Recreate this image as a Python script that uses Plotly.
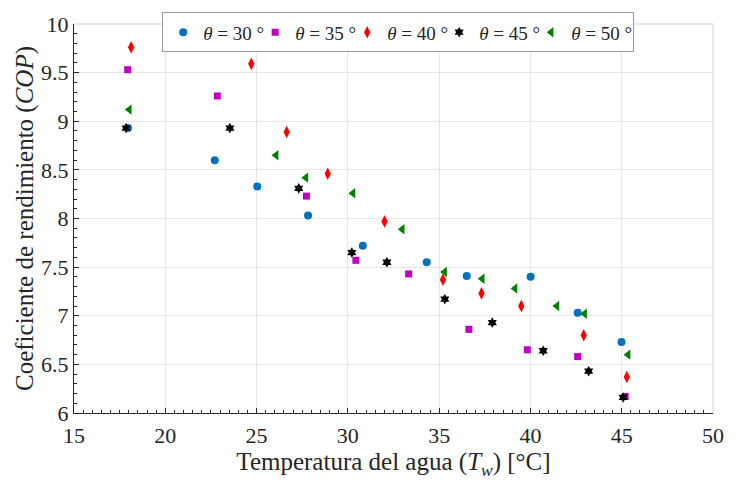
import plotly.graph_objects as go

# Water temperature (°C) and COP for each inclination angle
t_30 = [17.96, 22.71, 25.04, 27.82, 30.82, 34.32, 36.51, 40.01, 42.59, 44.99]
cop_30 = [8.93, 8.60, 8.33, 8.03, 7.72, 7.55, 7.41, 7.40, 7.03, 6.73]

t_35 = [17.94, 22.85, 27.73, 30.44, 33.33, 36.63, 39.83, 42.59, 45.19]
cop_35 = [9.53, 9.26, 8.23, 7.57, 7.43, 6.86, 6.65, 6.58, 6.17]

t_40 = [18.13, 24.71, 26.65, 28.90, 32.01, 35.21, 37.32, 39.50, 42.92, 45.28]
cop_40 = [9.76, 9.59, 8.89, 8.46, 7.97, 7.37, 7.23, 7.10, 6.80, 6.37]

t_45 = [17.85, 23.54, 27.31, 30.22, 32.14, 35.31, 37.91, 40.70, 43.19, 45.08]
cop_45 = [8.93, 8.93, 8.31, 7.65, 7.55, 7.17, 6.93, 6.64, 6.43, 6.16]

t_50 = [18.03, 26.07, 27.70, 30.28, 32.98, 35.30, 37.36, 39.16, 41.45, 42.97, 45.35]
cop_50 = [9.12, 8.65, 8.42, 8.26, 7.89, 7.45, 7.38, 7.28, 7.10, 7.02, 6.60]

x_ticks = [15, 20, 25, 30, 35, 40, 45, 50]
y_ticks = [6, 6.5, 7, 7.5, 8, 8.5, 9, 9.5, 10]
y_tick_text = ["6", "6.5", "7", "7.5", "8", "8.5", "9", "9.5", "10"]

series = [
    ("30", t_30, cop_30, "circle", "#0072BD", 8),
    ("35", t_35, cop_35, "square", "#C000C0", 7),
    ("40", t_40, cop_40, "diamond-tall", "#FF0000", 9),
    ("45", t_45, cop_45, "hexagram", "#000000", 8),
    ("50", t_50, cop_50, "triangle-left", "#008000", 9),
]

FONT = "Liberation Serif"
INK = "#262626"

fig = go.Figure()
for i, (ang, xs, ys, sym, col, sz) in enumerate(series):
    fig.add_trace(go.Scatter(
        x=xs, y=ys, mode="markers",
        name=f"<i>θ</i> = {ang} °",
        marker=dict(symbol=sym, color=col, size=sz, line=dict(width=0)),
        # the last entry gets room for its full label inside the legend box
        legendwidth=57 if i == len(series) - 1 else None,
    ))

axis_common = dict(
    showgrid=True, gridcolor="#E6E6E6", gridwidth=1,
    zeroline=False, showline=True, linecolor=INK, linewidth=1,
    ticks="inside", ticklen=5, tickcolor=INK,
    tickfont=dict(family=FONT, size=22, color=INK),
    mirror=False,
)

fig.update_xaxes(
    range=[15, 50], tickmode="array", tickvals=x_ticks,
    minor=dict(dtick=0.5, ticks="inside", ticklen=3, tickcolor=INK, showgrid=False),
    ticklabelstandoff=3,
    title=dict(text="Temperatura del agua (<i>T</i><sub><i>w</i></sub>) [°C]",
               font=dict(family=FONT, size=25, color=INK), standoff=2),
    **axis_common,
)
fig.update_yaxes(
    range=[6, 10], tickmode="array", tickvals=y_ticks, ticktext=y_tick_text,
    minor=dict(dtick=0.1, ticks="inside", ticklen=3, tickcolor=INK, showgrid=False),
    title=dict(text="Coeficiente de rendimiento (<i>COP</i>)",
               font=dict(family=FONT, size=25, color=INK), standoff=0),
    **axis_common,
)

# light frame on the top and right sides
fig.add_shape(type="line", xref="paper", yref="paper", x0=0, x1=1, y0=1, y1=1,
              line=dict(color="#E0E0E0", width=1.5))
fig.add_shape(type="line", xref="paper", yref="paper", x0=1, x1=1, y0=0, y1=1,
              line=dict(color="#E0E0E0", width=1.5))

fig.update_layout(
    width=736, height=485,
    margin=dict(l=74, r=16, t=17, b=72),
    paper_bgcolor="white", plot_bgcolor="white",
    font=dict(family=FONT, size=20, color=INK),
    showlegend=True,
    legend=dict(
        orientation="h", x=0.138, xanchor="left", y=1.03, yanchor="top",
        bgcolor="white", bordercolor="#9A9A9A", borderwidth=1,
        font=dict(family=FONT, size=19, color=INK),
        itemwidth=30, tracegroupgap=0,
        entrywidth=47, entrywidthmode="pixels",
    ),
)

fig.write_html("out.html")
